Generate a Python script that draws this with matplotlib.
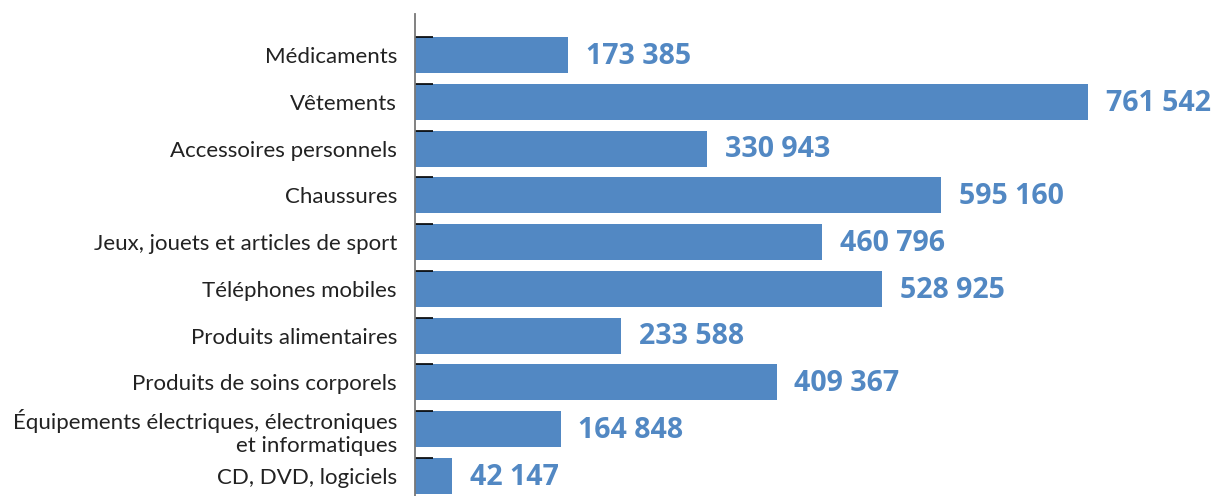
import numpy as np
import matplotlib
matplotlib.use('Agg')
import matplotlib.pyplot as plt
from matplotlib.ticker import FixedLocator

categories = [
    'Médicaments',
    'Vêtements',
    'Accessoires personnels',
    'Chaussures',
    'Jeux, jouets et articles de sport',
    'Téléphones mobiles',
    'Produits alimentaires',
    'Produits de soins corporels',
    'Équipements électriques, électroniques\net informatiques',
    'CD, DVD, logiciels',
]
values = [173385, 761542, 330943, 595160, 460796, 528925, 233588, 409367, 164848, 42147]

BLUE = '#5288C3'
BAR_H = 0.77

fig = plt.figure(figsize=(12.13, 4.96), dpi=100)
ax = fig.add_axes([415 / 1213, 0.0, 1 - 415 / 1213, 1 - 14 / 496])

y = np.arange(len(categories))
ax.barh(y, values, height=BAR_H, color=BLUE)

for yi, v in zip(y, values):
    txt = f'{v:,}'.replace(',', ' ')
    ax.text(v + 20000, yi + 0.03, txt, va='center', ha='left', color=BLUE,
            fontsize=20.5, fontweight='bold', family=['Open Sans', 'DejaVu Sans'],
            clip_on=False)

ax.set_xlim(0, 903000)
ax.set_ylim(9.43, -0.876)

ax.set_yticks(y)
ax.set_yticklabels(categories, fontsize=16, family=['Lato', 'DejaVu Sans'],
                   fontweight='normal', color='#222222', linespacing=1.15)
ax.tick_params(axis='y', which='major', length=0, pad=13)
ax.yaxis.set_minor_locator(FixedLocator(y - BAR_H / 2))
ax.tick_params(axis='y', which='minor', direction='in', length=13, width=1.2, color='black')
ax.set_xticks([])

for s in ['top', 'right', 'bottom']:
    ax.spines[s].set_visible(False)
ax.spines['left'].set_color('#777777')
ax.spines['left'].set_linewidth(1.3)

fig.savefig('out.png', dpi=100)
